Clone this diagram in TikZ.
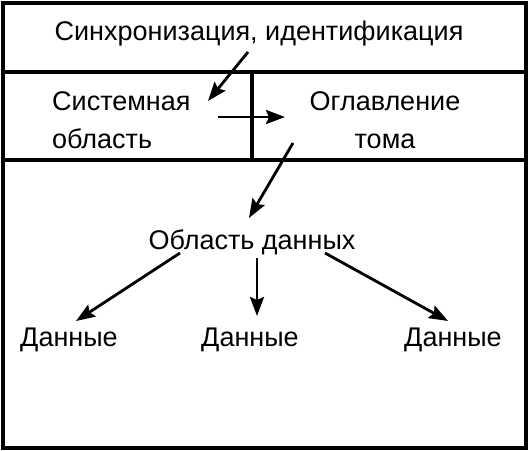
\documentclass[tikz,border=0pt]{standalone}
\usepackage{fontspec}
\setmainfont{Liberation Sans}
\usetikzlibrary{arrows.meta,positioning,calc}
\tikzset{tomtext/.style={font=\fontsize{27}{38}\selectfont,inner sep=0pt,align=center},tomline/.style={line width=3.2pt,draw=black},tomarr/.style={-{Stealth[length=19pt,width=14pt,inset=3pt]},line width=2.8pt}}

\begin{document}
\begin{tikzpicture}[x=1pt,y=-1pt]
\useasboundingbox (0,0) rectangle (530,450);
\draw[tomline] (3,3) rectangle (526,448);
\draw[tomline] (3,72) -- (526,72);
\draw[tomline] (3,160) -- (526,160);
\draw[tomline] (252,72) -- (252,160);
\node[tomtext] (sync) at (259,34) {Синхронизация, идентификация};
\node[tomtext,align=left,anchor=west] (sys) at (52,120) {Системная\\область};
\node[tomtext] (toc) at (385,120) {Оглавление\\тома};
\node[tomtext] (area) at (252,242) {Область данных};
\node[tomtext] (d1) at (69,340) {Данные};
\node[tomtext] (d2) at (250,340) {Данные};
\node[tomtext] (d3) at (453,340) {Данные};
\coordinate (s1) at (248,52); \coordinate (t1) at (208,101);
\coordinate (s2) at (218,117); \coordinate (t2) at (285,117);
\coordinate (s3) at (293,143); \coordinate (t3) at (249,218);
\coordinate (s4) at (180,253); \coordinate (t4) at (76,321);
\coordinate (s5) at (257,258); \coordinate (t5) at (257,316);
\coordinate (s6) at (325,253); \coordinate (t6) at (448,321);
\draw[tomarr] (s1) -- (t1);
\draw[tomarr] (s2) -- (t2);
\draw[tomarr] (s3) -- (t3);
\draw[tomarr] (s4) -- (t4);
\draw[tomarr] (s5) -- (t5);
\draw[tomarr] (s6) -- (t6);
\end{tikzpicture}
\end{document}
